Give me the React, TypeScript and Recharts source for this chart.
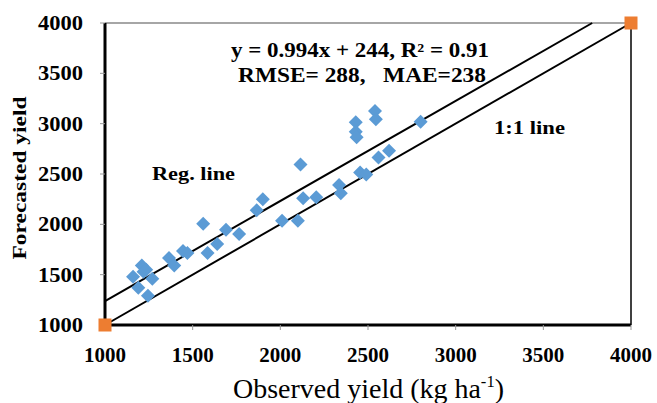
import React from "react";
import {
  ScatterChart,
  Scatter,
  XAxis,
  YAxis,
  ReferenceLine,
  Label,
} from "recharts";

const SERIF = '"Liberation Serif", "Times New Roman", serif';

const observed = [
  1160, 1190, 1210, 1220, 1235, 1245, 1270, 1365, 1395, 1445, 1470, 1560,
  1585, 1640, 1690, 1765, 1865, 1900, 2010, 2100, 2115, 2130, 2205, 2335,
  2345, 2430, 2430, 2435, 2455, 2490, 2540, 2545, 2560, 2620, 2800,
];
const forecasted = [
  1480, 1370, 1590, 1530, 1550, 1290, 1460, 1665, 1590, 1735, 1715, 2005,
  1715, 1805, 1945, 1905, 2140, 2250, 2035, 2035, 2595, 2260, 2270, 2390,
  2310, 3015, 2920, 2865, 2515, 2495, 3125, 3045, 2665, 2730, 3020,
];

const axisTicks = [1000, 1500, 2000, 2500, 3000, 3500, 4000];
const axisMin = 1000;
const axisMax = 4000;

// fitted regression y = 0.994x + 244
const slope = 0.994;
const intercept = 244;

const onePoints = [
  { x: 1000, y: 1000 },
  { x: 4000, y: 4000 },
];

const points = observed.map((x, i) => ({ x, y: forecasted[i] }));
const regStart = { x: axisMin, y: slope * axisMin + intercept };
const regEnd = { x: (axisMax - intercept) / slope, y: axisMax };

const Diamond = (props: any) => {
  const { cx, cy } = props;
  const r = 7;
  return (
    <polygon
      points={`${cx},${cy - r} ${cx + r},${cy} ${cx},${cy + r} ${cx - r},${cy}`}
      fill="#5B9BD5"
    />
  );
};

const Square = (props: any) => {
  const { cx, cy } = props;
  return <rect x={cx - 6.5} y={cy - 6.5} width={13} height={13} fill="#ED7D31" />;
};

const YTick = (props: any) => {
  const { x, y, payload } = props;
  return (
    <text
      x={x}
      y={y}
      dy={7}
      textAnchor="end"
      fontFamily={SERIF}
      fontWeight="bold"
      fontSize={20}
      fill="#000"
      textLength={45}
      lengthAdjust="spacingAndGlyphs"
    >
      {payload.value}
    </text>
  );
};

const XTick = (props: any) => {
  const { x, payload } = props;
  return (
    <text
      x={x}
      y={362}
      textAnchor="middle"
      fontFamily={SERIF}
      fontWeight="bold"
      fontSize={21}
      fill="#000"
    >
      {payload.value}
    </text>
  );
};

const Notes = () => (
  <g fontFamily={SERIF} fontWeight="bold" fill="#000">
    <text x={231} y={57} fontSize={20} textLength={258} lengthAdjust="spacingAndGlyphs">
      y = 0.994x + 244, R² = 0.91
    </text>
    <text x={238} y={82} fontSize={20} textLength={248} lengthAdjust="spacingAndGlyphs">
      {"RMSE= 288,\u00a0\u00a0\u00a0MAE=238"}
    </text>
    <text x={152} y={180} fontSize={19} textLength={83} lengthAdjust="spacingAndGlyphs">
      Reg. line
    </text>
    <text x={494} y={134} fontSize={19} textLength={71} lengthAdjust="spacingAndGlyphs">
      1:1 line
    </text>
  </g>
);

export default function App() {
  return (
    <div style={{ position: "absolute", left: 0, top: 0, background: "#fff" }}>
      <ScatterChart
        width={657}
        height={403}
        margin={{ top: 23, right: 26, left: 0, bottom: 0 }}
      >
        <XAxis
          type="number"
          dataKey="x"
          domain={[axisMin, axisMax]}
          ticks={axisTicks}
          height={78}
          axisLine={{ stroke: "#000", strokeWidth: 3 }}
          tickLine={{ stroke: "#999" }}
          tickSize={5}
          tick={<XTick />}
        >
          <Label
            content={() => (
              <text
                x={233}
                y={398}
                fontFamily={SERIF}
                fontSize={27}
                fill="#000"
                textLength={271}
                lengthAdjust="spacingAndGlyphs"
              >
                Observed yield (kg ha
                <tspan fontSize={16} dy={-11}>-1</tspan>
                <tspan dy={11}>)</tspan>
              </text>
            )}
          />
        </XAxis>
        <YAxis
          type="number"
          dataKey="y"
          domain={[axisMin, axisMax]}
          ticks={axisTicks}
          width={105}
          axisLine={{ stroke: "#000", strokeWidth: 3 }}
          tickLine={{ stroke: "#999" }}
          tickSize={5}
          tickMargin={17}
          tick={<YTick />}
        >
          <Label
            content={() => (
              <text
                x={20}
                y={178}
                transform="rotate(-90 20 178)"
                textAnchor="middle"
                dy={6}
                fontFamily={SERIF}
                fontWeight="bold"
                fontSize={19}
                fill="#000"
                textLength={163}
                lengthAdjust="spacingAndGlyphs"
              >
                Forecasted yield
              </text>
            )}
          />
        </YAxis>
        <ReferenceLine y={axisMax} stroke="#888" strokeWidth={1.5} />
        <ReferenceLine x={axisMax} stroke="#000" strokeWidth={1.5} />
        <ReferenceLine segment={[regStart, regEnd]} stroke="#000" strokeWidth={2} />
        <ReferenceLine segment={onePoints} stroke="#000" strokeWidth={2} />
        <Scatter data={points} shape={<Diamond />} isAnimationActive={false} />
        <Scatter data={onePoints} shape={<Square />} isAnimationActive={false} />
        <Notes />
      </ScatterChart>
    </div>
  );
}
